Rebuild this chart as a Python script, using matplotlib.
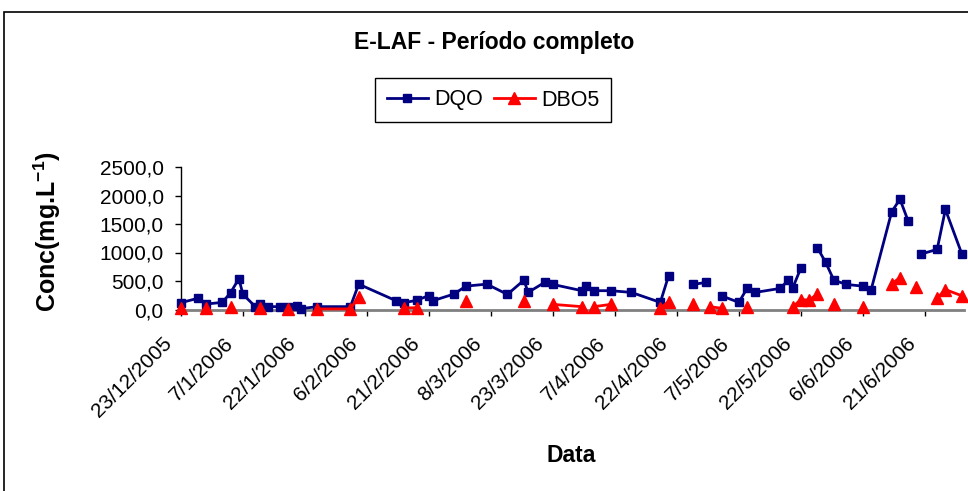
import matplotlib
matplotlib.use('Agg')
import matplotlib.pyplot as plt
import matplotlib.dates as mdates
import matplotlib.transforms as mtransforms
from matplotlib.patches import Rectangle
import numpy as np
import datetime as dt

plt.rcParams['font.family'] = ['Liberation Sans', 'DejaVu Sans']
plt.rcParams['mathtext.fontset'] = 'custom'
plt.rcParams['mathtext.rm'] = 'Liberation Sans'
plt.rcParams['mathtext.bf'] = 'Liberation Sans:bold'

# ---------------- data ----------------
title = "E-LAF - Período completo"
x_label = "Data"
y_label = r"Conc(mg.L$^{\mathbf{-1}}$)"
series_names = ["DQO", "DBO5"]

dates = [
    "2005-12-23", "2005-12-27", "2005-12-29", "2006-01-02", "2006-01-04",
    "2006-01-06", "2006-01-07", "2006-01-10", "2006-01-11", "2006-01-13",
    "2006-01-16", "2006-01-18", "2006-01-20", "2006-01-21", "2006-01-25",
    "2006-02-02", "2006-02-04", "2006-02-13", "2006-02-15", "2006-02-18",
    "2006-02-21", "2006-02-22", "2006-02-27", "2006-03-02", "2006-03-07",
    "2006-03-12", "2006-03-16", "2006-03-17", "2006-03-21", "2006-03-23",
    "2006-03-30", "2006-03-31", "2006-04-02", "2006-04-06", "2006-04-11",
    "2006-04-18", "2006-04-20", "2006-04-23", "2006-04-26", "2006-04-29",
    "2006-04-30", "2006-05-03", "2006-05-07", "2006-05-09", "2006-05-11",
    "2006-05-17", "2006-05-19", "2006-05-20", "2006-05-22", "2006-05-24",
    "2006-05-26", "2006-05-28", "2006-05-30", "2006-06-02", "2006-06-06",
    "2006-06-08", "2006-06-13", "2006-06-15", "2006-06-17", "2006-06-19",
    "2006-06-20", "2006-06-24", "2006-06-26", "2006-06-30",
]
nan = float("nan")
dqo = [
    120, 195, 95, 125, 295,
    540, 265, 50, 90, 50,
    50, 50, 65, 15, 50,
    50, 445, 155, 120, 160,
    245, 155, 270, 410, 445,
    265, 515, 300, 475, 440,
    330, 410, 330, 330, 300,
    125, 590, nan, 440, 475,
    nan, 235, 125, 370, 300,
    370, 515, 370, 725, nan,
    1085, 830, 515, 440, 410,
    340, 1715, 1935, 1550, nan,
    970, 1055, 1755, 970,
]
dbo5 = [
    30, nan, 30, nan, 50,
    nan, nan, nan, 30, nan,
    nan, 10, nan, nan, 10,
    10, 220, nan, 30, 30,
    nan, nan, nan, 145, nan,
    nan, 145, nan, nan, 90,
    50, nan, 50, 90, nan,
    20, 140, nan, 90, nan,
    50, 20, nan, 40, nan,
    nan, nan, 40, 175, 165,
    270, nan, 90, nan, 40,
    nan, 450, 560, nan, 390,
    nan, 200, 350, 240,
]
y_ticks = [0, 500, 1000, 1500, 2000, 2500]
x_tick_start = "2005-12-23"
x_tick_step_days = 15
x_tick_count = 13
x_end = "2006-06-30"

# ---------------- figure ----------------
W, H = 968, 491
fig = plt.figure(figsize=(W / 100, H / 100), dpi=100)
fig.patch.set_facecolor('white')

ax_l, ax_r, ax_b, ax_t = 181, 964, 309.5, 167
ax = fig.add_axes([ax_l / W, (H - ax_b) / H, (ax_r - ax_l) / W, (ax_b - ax_t) / H])

x = [dt.datetime.strptime(d, "%Y-%m-%d") for d in dates]
xn = mdates.date2num(x)
dqo_a = np.array(dqo, dtype=float)
dbo_a = np.array(dbo5, dtype=float)

l1, = ax.plot(xn, dqo_a, color='#000080', lw=2, marker='s', ms=6,
              mec='#000080', mfc='#000080', clip_on=False, zorder=3)
l2, = ax.plot(xn, dbo_a, color='#FF0000', lw=2, marker='^', ms=8,
              mec='#FF0000', mfc='#FF0000', clip_on=False, zorder=4)

start = dt.datetime.strptime(x_tick_start, "%Y-%m-%d")
tick_dates = [start + dt.timedelta(days=x_tick_step_days * i) for i in range(x_tick_count)]
tick_labels = [f"{d.day}/{d.month}/{d.year}" for d in tick_dates]
end = dt.datetime.strptime(x_end, "%Y-%m-%d") + dt.timedelta(hours=12)
ax.set_xlim(mdates.date2num(start), mdates.date2num(end))
ax.set_ylim(y_ticks[0], y_ticks[-1])

ax.set_xticks(mdates.date2num(tick_dates))
ax.set_xticklabels(tick_labels, rotation=45, ha='right', va='center',
                   rotation_mode='anchor', fontsize=15)
ax.set_yticks(y_ticks)
ax.set_yticklabels([f"{v:.1f}".replace('.', ',') for v in y_ticks], fontsize=15)

for s in ['top', 'right']:
    ax.spines[s].set_visible(False)
ax.spines['left'].set_color('black')
ax.spines['left'].set_linewidth(1)
ax.spines['bottom'].set_color('#808080')
ax.spines['bottom'].set_linewidth(2)
ax.tick_params(axis='y', direction='out', length=4.5, width=1, pad=8, colors='black')
ax.tick_params(axis='x', direction='out', length=4.5, width=1, pad=18, colors='black')
offset = mtransforms.ScaledTranslation(-12 / 100, 0, fig.dpi_scale_trans)
for lab in ax.get_xticklabels():
    lab.set_transform(lab.get_transform() + offset)

# border of chart area
fig.add_artist(Rectangle((4 / W, -0.1), 2, 0.1 + (H - 12) / H, transform=fig.transFigure,
                         fill=False, ec='black', lw=1.2))

fig.text(494 / W, 1 - 42 / H, title, ha='center', va='center', fontsize=16.5, weight='bold')
fig.text(571 / W, 1 - 455 / H, x_label, ha='center', va='center', fontsize=16.5, weight='bold')
fig.text(47 / W, 1 - 232 / H, y_label, ha='center', va='center', rotation=90,
         fontsize=18, weight='bold')

leg = fig.legend([l1, l2], series_names, loc='center', bbox_to_anchor=(493 / W, 1 - 100 / H),
                 ncol=2, frameon=True, fancybox=False, edgecolor='black', framealpha=1,
                 fontsize=15.5, handlelength=1.9, columnspacing=0.5, handletextpad=0.3,
                 borderpad=0.55, borderaxespad=0, numpoints=1)
leg.get_frame().set_linewidth(1)

fig.savefig('out.png', dpi=100, facecolor='white')
